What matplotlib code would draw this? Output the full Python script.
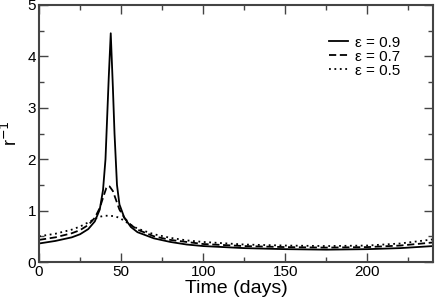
import numpy as np
import matplotlib.pyplot as plt
from matplotlib.ticker import MultipleLocator

plt.rcParams['font.family'] = ['Liberation Sans', 'DejaVu Sans']

# epsilon = 0.9
t09 = [0, 10, 20, 25, 30, 34, 37, 39, 40.5, 41.5, 42.5, 43.7, 45, 46, 47.5, 49, 52, 56, 60,
       70, 80, 90, 100, 125, 150, 175, 200, 220, 240]
r09 = [0.36, 0.41, 0.48, 0.54, 0.64, 0.79, 1.02, 1.4, 2.0, 2.8, 3.6, 4.45, 3.4, 2.5, 1.5, 1.12,
       0.86, 0.68, 0.58, 0.46, 0.39, 0.34, 0.31, 0.27, 0.25, 0.24, 0.25, 0.27, 0.31]

# epsilon = 0.7
t07 = [0, 10, 20, 25, 30, 34, 37, 39, 41, 42, 43, 45, 47, 49, 52, 56, 60, 70, 80, 90, 100,
       125, 150, 175, 200, 220, 240]
r07 = [0.43, 0.48, 0.56, 0.62, 0.72, 0.86, 1.05, 1.25, 1.44, 1.48, 1.47, 1.38, 1.2, 1.02, 0.86,
       0.72, 0.63, 0.5, 0.43, 0.39, 0.35, 0.31, 0.29, 0.28, 0.29, 0.32, 0.38]

# epsilon = 0.5
t05 = [0, 10, 20, 25, 30, 34, 37, 40, 43, 46, 49, 52, 56, 60, 70, 80, 90, 100, 125, 150,
       175, 200, 220, 240]
r05 = [0.5, 0.55, 0.63, 0.69, 0.77, 0.84, 0.88, 0.9, 0.9, 0.89, 0.86, 0.8, 0.72, 0.65, 0.54,
       0.47, 0.42, 0.39, 0.34, 0.32, 0.31, 0.32, 0.36, 0.44]

fig = plt.figure(figsize=(4.36, 3.01), dpi=100)
ax = fig.add_axes([39/436, 1 - 262/301, (433-39)/436, (262-5)/301])

ax.plot(t09, r09, color='black', lw=1.3, ls='-', label='ε = 0.9')
ax.plot(t07, r07, color='black', lw=1.3, ls=(0, (4, 2)), label='ε = 0.7')
ax.plot(t05, r05, color='black', lw=1.3, ls=(0, (1, 2)), label='ε = 0.5')

ax.set_xlim(0, 240)
ax.set_ylim(0, 5)
ax.xaxis.set_major_locator(MultipleLocator(50))
ax.xaxis.set_minor_locator(MultipleLocator(25))
ax.yaxis.set_major_locator(MultipleLocator(1))
ax.yaxis.set_minor_locator(MultipleLocator(0.5))
ax.tick_params(which='both', direction='in', top=True, right=True, color='#444',
               labelsize=11, pad=2)
ax.tick_params(which='major', length=6.5, width=1)
ax.tick_params(which='minor', length=3.6, width=1)
for s in ax.spines.values():
    s.set_color('#444')
    s.set_linewidth(1.5)

ax.set_xlabel('Time (days)', fontsize=14, labelpad=1)
ax.set_ylabel('r$^{-1}$', fontsize=13)
ax.yaxis.set_label_coords(-0.045, 0.5)

ax.legend(loc='upper right', bbox_to_anchor=(0.935, 0.91), frameon=False, fontsize=11,
          handlelength=1.25, handletextpad=0.45, labelspacing=0.0, borderpad=0)

fig.savefig('out.png', dpi=100)
